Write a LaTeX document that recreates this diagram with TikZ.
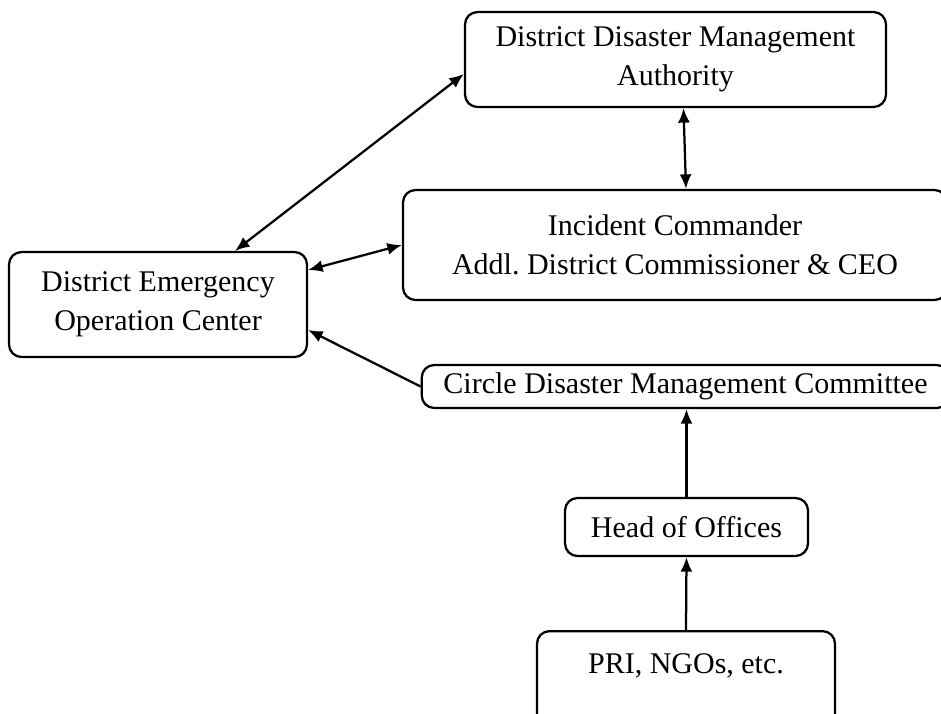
\documentclass[tikz,border=0pt]{standalone}
\usepackage{fontspec}
\setmainfont{Liberation Serif}
\usetikzlibrary{arrows.meta,positioning}

\begin{document}
\begin{tikzpicture}[x=0.4pt,y=-0.4pt,>={Latex[length=5.8pt,width=4.8pt]},
  unit/.style={draw,line width=0.9pt,rounded corners=5pt,align=center,
    font=\fontsize{12}{15.6}\selectfont\frenchspacing,inner sep=0pt},
  link/.style={line width=0.9pt}]
\useasboundingbox (0,0) rectangle (941,714);
\clip (0,0) rectangle (941,714);
% boxes, placed at pixel positions of the chart
\node[unit,minimum width=168.4pt,minimum height=38pt] (ddma) at (675.5,59.5)
  {District Disaster Management\\Authority};
\node[unit,minimum width=217.6pt,minimum height=44pt] (ic) at (675,245)
  {Incident Commander\\Addl. District Commissioner \& CEO};
\node[unit,minimum width=119.2pt,minimum height=42pt] (deoc) at (158,304.5)
  {District Emergency\\Operation Center};
\node[unit,minimum width=211pt,minimum height=17.2pt] (cdmc) at (685.5,386.5)
  {Circle Disaster Management Committee};
\node[unit,minimum width=97.2pt,minimum height=23.2pt] (hoo) at (686.5,527)
  {Head of Offices};
\node[unit,minimum width=119.2pt,anchor=north,inner ysep=9pt,text depth=30pt] (pri) at (686,630)
  {PRI, NGOs, etc.};
% links between the levels
\draw[link,<->] ([xshift=30.8pt]deoc.north) -- ([yshift=-5.8pt]ddma.west);
\draw[link,<->] ([xshift=3.2pt]ddma.south) -- ([xshift=4.4pt]ic.north);
\draw[link,<->] ([yshift=13.8pt]deoc.east) -- (ic.west);
\draw[link,->] (cdmc.west) -- ([yshift=-10.2pt]deoc.east);
\draw[link,->] (hoo.north) -- (hoo.north |- cdmc.south);
\draw[link,->] (pri.north) -- (hoo.south);
\end{tikzpicture}
\end{document}
